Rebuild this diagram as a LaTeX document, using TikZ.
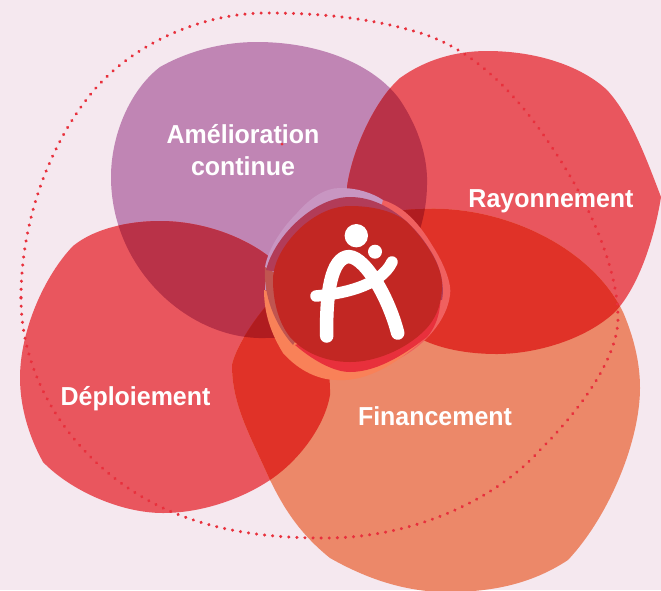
\documentclass[tikz,border=0pt]{standalone}
\usepackage{fontspec}
\setmainfont[FakeStretch=0.96]{Liberation Sans}
\definecolor{bgpink}{HTML}{F5E8EF}
\definecolor{blobpurple}{HTML}{C085B4}
\definecolor{blobred}{HTML}{E9565E}
\definecolor{bloborange}{HTML}{EC8869}
\definecolor{mixplum}{HTML}{B93248}
\definecolor{mixred}{HTML}{E03228}
\definecolor{mixdark}{HTML}{B01C20}
\definecolor{dotred}{HTML}{E8303C}
\definecolor{halopurple}{HTML}{C896C2}
\definecolor{halopink}{HTML}{F0605F}
\definecolor{haloorange}{HTML}{F98158}
\definecolor{halobrown}{HTML}{C05550}
\definecolor{haloplum}{HTML}{B23C58}
\definecolor{logored}{HTML}{C22723}
\newcommand{\blobAmelioration}{(160,67) .. controls (190,50) and (225,42) .. (257,42) .. controls (320,42) and (375,65) .. (400,100) .. controls (420,130) and (428,160) .. (427,185) .. controls (426,260) and (370,338) .. (265,338) .. controls (190,340) and (111,270) .. (111,177) .. controls (111,135) and (130,90) .. (160,67) -- cycle}
\newcommand{\blobRayonnement}{(400,78) .. controls (425,60) and (455,51) .. (487,51) .. controls (535,51) and (580,65) .. (607,90) .. controls (630,115) and (645,155) .. (661,197) .. controls (655,235) and (640,285) .. (615,312) .. controls (585,340) and (535,354) .. (497,354) .. controls (465,354) and (440,348) .. (423,340) .. controls (380,320) and (347,240) .. (347,187) .. controls (352,150) and (375,100) .. (400,78) -- cycle}
\newcommand{\blobFinancement}{(232,365) .. controls (235,350) and (250,325) .. (267,305) .. controls (300,250) and (360,209) .. (423,209) .. controls (500,205) and (590,245) .. (623,312) .. controls (635,340) and (640,365) .. (640,388) .. controls (640,440) and (610,515) .. (568,560) .. controls (530,585) and (490,592) .. (447,592) .. controls (400,592) and (360,575) .. (330,558) .. controls (295,530) and (280,500) .. (270,480) .. controls (250,435) and (232,405) .. (232,365) -- cycle}
\newcommand{\blobDeploiement}{(73,246) .. controls (95,228) and (130,221) .. (160,221) .. controls (200,221) and (240,235) .. (267,255) .. controls (310,290) and (331,350) .. (330,395) .. controls (325,425) and (300,460) .. (270,480) .. controls (240,500) and (200,513) .. (163,513) .. controls (120,513) and (70,490) .. (43,462) .. controls (28,435) and (20,405) .. (20,378) .. controls (20,330) and (45,275) .. (73,246) -- cycle}
\tikzset{
  blobtext/.style={text=white, align=center, font=\fontsize{26}{32}\selectfont\bfseries},
  logostroke/.style={draw=white, line width=13.5pt, line cap=round, line join=round}
}
\begin{document}
\begin{tikzpicture}[x=1pt,y=-1pt]
\useasboundingbox (0,0) rectangle (661,590);
\fill[bgpink] (0,0) rectangle (661,590);

\fill[blobpurple] \blobAmelioration;
\fill[blobred] \blobRayonnement;
\fill[blobred] \blobDeploiement;
\fill[bloborange] \blobFinancement;

\begin{scope}
\clip \blobAmelioration;
\fill[mixplum] \blobRayonnement;
\fill[mixplum] \blobDeploiement;
\fill[mixdark] \blobFinancement;
\end{scope}
\begin{scope}
\clip \blobFinancement;
\fill[mixred] \blobDeploiement;
\fill[mixred] \blobRayonnement;
\clip \blobAmelioration;
\fill[mixdark] (0,0) rectangle (661,590);
\end{scope}

% dotted ring
\draw[dotred, line width=3.3pt, line cap=round, dash pattern=on 0.1pt off 8pt]
  (21,298) .. controls (21,390) and (85,475) .. (172,512) .. controls (220,532) and (270,538) .. (325,538) .. controls (420,538) and (500,495) .. (540,450) .. controls (585,405) and (618,355) .. (618,318) .. controls (618,270) and (590,205) .. (557,155) .. controls (525,105) and (480,50) .. (417,32) .. controls (370,18) and (320,13) .. (267,13) .. controls (200,13) and (130,45) .. (90,95) .. controls (50,145) and (21,220) .. (21,298) -- cycle;
\fill[dotred] (282,144) circle (1.5);

% centre
\fill[halopurple] (340,188) .. controls (358,188) and (372,193) .. (383,200) -- (400,300) -- (265,290) -- (265,267) .. controls (268,250) and (280,230) .. (297,213) .. controls (310,198) and (325,188) .. (340,188) -- cycle;
\fill[halopink] (383,200) .. controls (405,207) and (420,225) .. (432,245) .. controls (445,265) and (452,285) .. (450,295) .. controls (447,320) and (425,345) .. (400,358) .. controls (375,372) and (355,378) .. (337,375) -- cycle;
\fill[haloorange] (264,290) .. controls (264,315) and (272,335) .. (283,353) .. controls (300,372) and (320,380) .. (337,380) .. controls (370,382) and (400,360) .. (423,340) -- cycle;
\fill[dotred] (295,345) .. controls (315,362) and (335,372) .. (350,372) .. controls (380,372) and (410,350) .. (427,337) .. controls (438,325) and (442,305) .. (440,290) -- cycle;
\fill[halobrown] (265,267) .. controls (263,295) and (275,325) .. (293,345) -- (320,300) -- cycle;
\fill[haloplum] (266,270) .. controls (275,235) and (315,197) .. (350,197) .. controls (385,197) and (415,225) .. (430,250) .. controls (440,265) and (445,285) .. (442,300) -- cycle;
\fill[logored] (350,206) .. controls (375,206) and (395,212) .. (407,222) .. controls (425,240) and (442,265) .. (442,285) .. controls (442,305) and (435,320) .. (425,330) .. controls (405,350) and (375,362) .. (350,362) .. controls (325,362) and (303,352) .. (290,337) .. controls (278,322) and (273,300) .. (273,280) .. controls (273,255) and (295,232) .. (305,224) .. controls (320,212) and (335,206) .. (350,206) -- cycle;

% logo
\fill[white] (356.3,235.7) circle (11.7);
\fill[white] (375,251.7) circle (7);
\draw[logostroke] (326.7,336) .. controls (326,303) and (329,262) .. (346,257) .. controls (362,252) and (388,295) .. (397.7,333);
\draw[logostroke, line width=11.5pt] (316,296) .. controls (340,294) and (380,287) .. (392,262);

\node[blobtext] (amelioration) at (243,150) {Amélioration\\continue};
\node[blobtext, anchor=base] (rayonnement) at (551,207) {Rayonnement};
\node[blobtext, anchor=base] (deploiement) at (135.5,405) {Déploiement};
\node[blobtext, anchor=base] (financement) at (435,425) {Financement};
\end{tikzpicture}
\end{document}
